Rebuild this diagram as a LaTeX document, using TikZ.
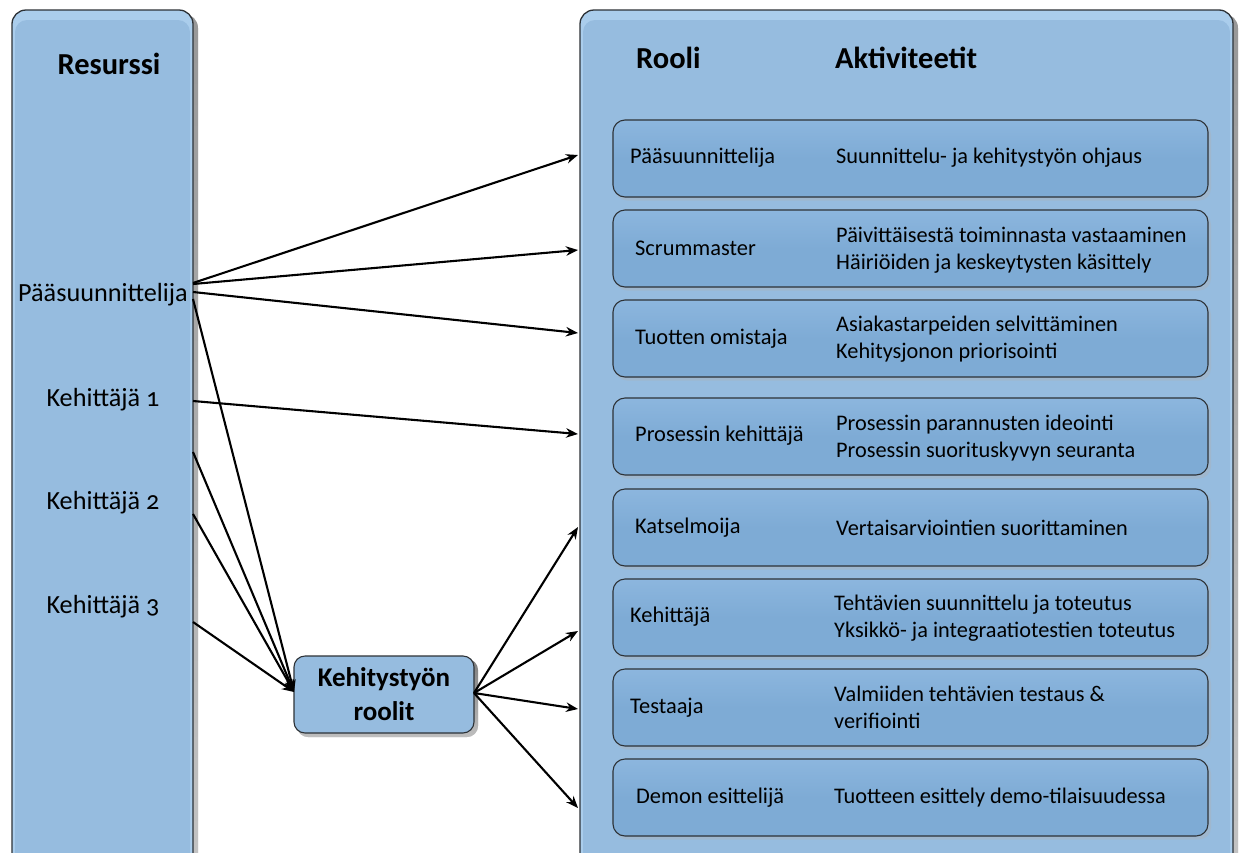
\documentclass[tikz,border=0pt]{standalone}
\usepackage{fontspec}
\setmainfont{Carlito}
\usetikzlibrary{arrows.meta}

\definecolor{panelblue}{RGB}{150,188,223}
\definecolor{panellight}{RGB}{170,205,236}
\definecolor{boxblue}{RGB}{126,171,213}
\definecolor{boxlight}{RGB}{140,182,222}
\definecolor{edge}{RGB}{45,50,55}
\definecolor{shade}{RGB}{170,178,186}

\tikzset{
  rolebox/.style={draw=edge, line width=1.1pt, rounded corners=12pt,
    top color=boxlight, bottom color=boxblue, middle color=boxblue,
    minimum width=595pt, minimum height=77pt, inner sep=0pt},
  boxshadow/.style={fill=shade, opacity=0.45, rounded corners=12pt},
  rolename/.style={anchor=west, font=\fontsize{22.4}{27}\selectfont, inner sep=0pt},
  activity/.style={anchor=west, align=left, font=\fontsize{22.3}{27}\selectfont, inner sep=0pt},
  heading/.style={font=\fontsize{30.5}{34}\selectfont\bfseries, inner sep=0pt},
  resname/.style={font=\fontsize{26.2}{30}\selectfont\addfontfeature{Numbers=OldStyle}, inner sep=0pt},
  link/.style={line width=2.1pt, -{Stealth[length=12pt,width=9.5pt]}},
}

% a tall panel with a lighter bevel along its top edge
\newcommand{\bluepanel}[3]{%
  \fill[shade, opacity=0.35, rounded corners=14pt] (#1+3,#3+4) rectangle (#2+5,900);
  \fill[panellight, rounded corners=14pt] (#1,#3) rectangle (#2,900);
  \fill[panelblue, rounded corners=12pt] (#1+3,#3+10) rectangle (#2-3,900);
  \draw[edge, line width=1.3pt, rounded corners=14pt] (#1,#3) rectangle (#2,900);
}

\begin{document}
\begin{tikzpicture}[x=1pt,y=-1pt]
\useasboundingbox (0,0) rectangle (1240,852);
\fill[white] (0,0) rectangle (1240,852);
\begin{scope}
\clip (0,0) rectangle (1240,852);

% the two column panels
\bluepanel{12}{193}{10}
\bluepanel{580}{1233}{10}

% column headings
\node[heading] (hres) at (109,64) {Resurssi};
\node[heading, anchor=west] (hrol) at (636,58) {Rooli};
\node[heading, anchor=west] (hakt) at (835,58) {Aktiviteetit};

% resources
\node[resname] (ps) at (103,295) {Pääsuunnittelija};
\node[resname] (k1) at (103,400) {Kehittäjä 1};
\node[resname] (k2) at (103,503) {Kehittäjä 2};
\node[resname] (k3) at (103,607) {Kehittäjä 3};

% role boxes
\foreach \n/\yc in {1/158.5, 2/248.5, 3/338.5, 4/436.5, 5/527.5, 6/617.5, 7/707.5, 8/797.5}{
  \fill[boxshadow] (615,\yc-36) rectangle (1211,\yc+42);
  \node[rolebox] (r\n) at (910.5,\yc) {};
}

\node[rolename] (n1) at (630,158) {Pääsuunnittelija};
\node[rolename] (n2) at (635,248) {Scrummaster};
\node[rolename] (n3) at (635,339) {Tuotten omistaja};
\node[rolename] (n4) at (635,436) {Prosessin kehittäjä};
\node[rolename] (n5) at (635,528) {Katselmoija};
\node[rolename] (n6) at (630,617) {Kehittäjä};
\node[rolename] (n7) at (630,708) {Testaaja};
\node[rolename] (n8) at (636,798) {Demon esittelijä};

\node[activity] (t1) at (836,158) {Suunnittelu- ja kehitystyön ohjaus};
\node[activity] (t2) at (836,250) {Päivittäisestä toiminnasta vastaaminen\\Häiriöiden ja keskeytysten käsittely};
\node[activity] (t3) at (836,339) {Asiakastarpeiden selvittäminen\\Kehitysjonon priorisointi};
\node[activity] (t4) at (836,438) {Prosessin parannusten ideointi\\Prosessin suorituskyvyn seuranta};
\node[activity] (t5) at (836,528) {Vertaisarviointien suorittaminen};
\node[activity] (t6) at (834,618) {Tehtävien suunnittelu ja toteutus\\Yksikkö- ja integraatiotestien toteutus};
\node[activity] (t7) at (834,707) {Valmiiden tehtävien testaus \&\\verifiointi};
\node[activity] (t8) at (834,798) {Tuotteen esittely demo-tilaisuudessa};

% development roles hub
\fill[shade, opacity=0.5, rounded corners=11pt] (297,659) rectangle (478,737);
\node[draw=edge, line width=1.1pt, rounded corners=11pt, fill=panelblue,
      minimum width=180pt, minimum height=77pt, align=center,
      font=\fontsize{27}{34}\selectfont\bfseries] (kr) at (384,694.5) {Kehitystyön\\roolit};

% connector end points
\coordinate (s1) at (193,283);
\coordinate (s2) at (193,284);
\coordinate (s3) at (193,292);
\coordinate (s4) at (193,299);
\coordinate (s5) at (193,401);
\coordinate (s6) at (193,452);
\coordinate (s7) at (193,514);
\coordinate (s8) at (193,622);
\coordinate (e1) at (578,155);
\coordinate (e2) at (578,250);
\coordinate (e3) at (578,333);
\coordinate (e4) at (578,434);
\coordinate (e5) at (578,527);
\coordinate (e6) at (578,631);
\coordinate (e7) at (578,709);
\coordinate (e8) at (578,808);
\coordinate (kin) at (294,692);
\coordinate (kout) at (474,693);

% resource to role
\draw[link] (s1) -- (e1);
\draw[link] (s2) -- (e2);
\draw[link] (s3) -- (e3);
\draw[link] (s5) -- (e4);
% resources to the hub
\draw[link] (s4) -- (kin);
\draw[link] (s6) -- (kin);
\draw[link] (s7) -- (kin);
\draw[link] (s8) -- (kin);
% hub to roles
\draw[link] (kout) -- (e5);
\draw[link] (kout) -- (e6);
\draw[link] (kout) -- (e7);
\draw[link] (kout) -- (e8);
\end{scope}
\end{tikzpicture}
\end{document}
